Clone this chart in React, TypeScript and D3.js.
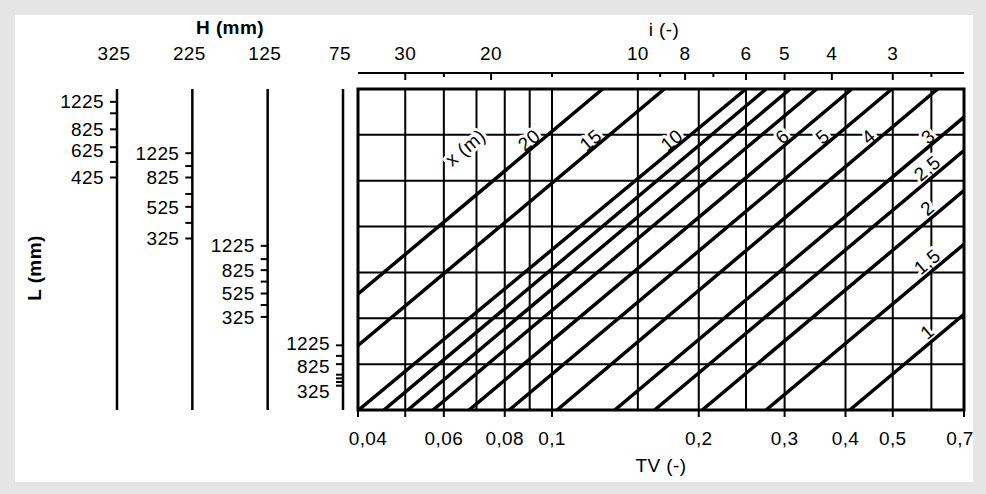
import React from "react";
import * as d3 from "d3";

// ---- data ----
const tvTickValues = [0.04, 0.05, 0.06, 0.08, 0.1, 0.2, 0.3, 0.4, 0.5, 0.7];
const tvTickLabels = ["0,04", "", "0,06", "0,08", "0,1", "0,2", "0,3", "0,4", "0,5", "0,7"];
const tvGridValues = [0.05, 0.06, 0.07, 0.08, 0.09, 0.1, 0.15, 0.2, 0.25, 0.3, 0.4, 0.5, 0.6];
const rowGridValues = [1, 2, 3, 4, 5, 6];

const iMajorTicks = [30, 20, 10, 8, 6, 5, 4, 3];
const iMinorTicks = [25, 15, 9, 7, 2.5];

const hValues = [325, 225, 125, 75];
const lTickValues = [1225, 1025, 825, 625, 525, 425, 325];
// position of each L tick on the chart's row scale (0 = bottom row, 7 = top)
const lPosH325 = [6.72, 6.47, 6.12, 5.73, 5.41, 5.07, NaN];
const lPosH225 = [5.6, 5.32, 5.07, 4.71, 4.43, 4.08, 3.74];
const lPosH125 = [3.58, 3.29, 3.05, 2.8, 2.54, 2.29, 2.03];
const lPosH75 = [1.41, 1.18, 1.0, 0.77, 0.69, 0.61, 0.53];
const lLabelsH325 = ["1225", "", "825", "625", "", "425", ""];
const lLabelsH225 = ["1225", "", "825", "", "525", "", "325"];
const lLabelsH125 = ["1225", "", "825", "", "525", "", "325"];
const lLabelsH75 = ["1225", "", "825", "", "", "", "325"];

// distance lines x (m): TV at bottom row and at top row
const xValues = [20, 15, 10, 9, 8, 7, 6, 5, 4, 3, 2.5, 2, 1.5, 1];
const xLineLabels = ["20", "15", "10", "", "", "", "6", "5", "4", "3", "2,5", "2", "1,5", "1"];
const tvAtBottom = [0.0208, 0.0278, 0.0401, 0.0452, 0.0506, 0.057, 0.0676, 0.0817, 0.1024, 0.1345, 0.1623, 0.2033, 0.2748, 0.408];
const tvAtTop = [0.127, 0.17, 0.25, 0.275, 0.308, 0.349, 0.412, 0.498, 0.618, 0.82, 0.99, 1.24, 1.68, 2.49];

const FONT = "'Liberation Sans', Arial, Helvetica, sans-serif";

export default function App() {
  const W = 986;
  const H = 494;
  const m = { left: 358, right: 964, top: 89, bottom: 410 };
  const x = d3.scaleLog().domain([0.04, 0.7]).range([m.left, m.right]);
  const y = d3.scaleLinear().domain([0, 7]).range([m.bottom, m.top]);
  const iScale = d3.scaleLog().domain([1.5 / 0.04, 1.5 / 0.7]).range([m.left, m.right]);
  const hx = d3.scalePoint<number>().domain(hValues).range([117, 343]);
  const lineGen = d3.line<[number, number]>().x((d) => d[0]).y((d) => d[1]);

  const lPos = [lPosH325, lPosH225, lPosH125, lPosH75];
  const lLab = [lLabelsH325, lLabelsH225, lLabelsH125, lLabelsH75];

  const axisY = 73;
  const fs = 19;
  const ls = 0.4;

  const labelItems = xValues
    .map((xv, k) => {
      const b = tvAtBottom[k];
      const t = tvAtTop[k];
      const x0 = x(b), y0 = y(0), x1 = x(t), y1 = y(7);
      const a = Math.atan2(y0 - y1, x1 - x0);
      const u = [Math.cos(a), -Math.sin(a)];
      const n = [-Math.sin(a), -Math.cos(a)];
      const label = xLineLabels[k];
      if (!label) return null;
      if (k <= 9) {
        const tv = b * Math.pow(t / b, 6 / 7);
        const px = x(tv), py = y(6);
        const ax = px + u[0] * -7 + n[0] * 8;
        const ay = py + u[1] * -7 + n[1] * 8;
        return { label, ax, ay, anchor: "end", deg: (-a * 180) / Math.PI };
      } else {
        const frac = Math.log(0.6 / b) / Math.log(t / b);
        const px = x(0.6), py = y(7 * frac);
        const ax = px + u[0] * 3 + n[0] * 10;
        const ay = py + u[1] * 3 + n[1] * 10;
        return { label, ax, ay, anchor: "middle", deg: (-a * 180) / Math.PI };
      }
    })
    .filter(Boolean) as { label: string; ax: number; ay: number; anchor: string; deg: number }[];

  const refAngle = (() => {
    const x0 = x(tvAtBottom[2]), x1 = x(tvAtTop[2]);
    return (-Math.atan2(y(0) - y(7), x1 - x0) * 180) / Math.PI;
  })();
  const xmX = x(0.0664);
  const xmY = y(5.72);

  const renderLabels = (halo: boolean) => (
    <g
      fontSize={fs}
      letterSpacing={ls}
      fill={halo ? "#fff" : "#000"}
      stroke={halo ? "#fff" : "none"}
      strokeWidth={halo ? 6 : 0}
      strokeLinejoin="round"
    >
      {labelItems.map((l, k) => (
        <text
          key={(halo ? "h" : "t") + k}
          x={l.ax}
          y={l.ay}
          textAnchor={l.anchor}
          dominantBaseline="central"
          transform={`rotate(${l.deg},${l.ax},${l.ay})`}
        >
          {l.label}
        </text>
      ))}
      <text x={xmX} y={xmY} textAnchor="middle" dominantBaseline="central" transform={`rotate(${refAngle},${xmX},${xmY})`}>
        x (m)
      </text>
    </g>
  );

  // small label nudges so neighbouring labels do not collide
  const labelShift = (j: number, k: number) => {
    if (j === 0 && k === 3) return 3;
    if (j === 3 && k === 0) return -2;
    if (j === 3 && k === 2) return 2;
    if (j === 3 && k === 6) return 6;
    return 0;
  };

  return (
    <svg
      width={W}
      height={H}
      style={{ position: "absolute", left: 0, top: 0, display: "block" }}
      fontFamily={FONT}
    >
      <defs>
        <clipPath id="plotClip">
          <rect x={m.left} y={m.top} width={m.right - m.left} height={m.bottom - m.top} />
        </clipPath>
      </defs>
      <rect x={0} y={0} width={W} height={H} fill="#e5e5e5" />
      <rect x={15} y={15} width={958} height={467} fill="#ffffff" />

      {/* grid */}
      {tvGridValues.map((v) => (
        <line key={"vg" + v} x1={x(v)} x2={x(v)} y1={m.top} y2={m.bottom} stroke="#000" strokeWidth={2} />
      ))}
      {rowGridValues.map((v) => (
        <line key={"hg" + v} x1={m.left} x2={m.right} y1={y(v)} y2={y(v)} stroke="#000" strokeWidth={2} />
      ))}

      {renderLabels(true)}

      {/* distance lines */}
      <g clipPath="url(#plotClip)">
        {xValues.map((xv, k) => (
          <path
            key={"xl" + xv}
            d={lineGen([
              [x(tvAtBottom[k]), y(0)],
              [x(tvAtTop[k]), y(7)],
            ]) as string}
            stroke="#000"
            strokeWidth={3.5}
            fill="none"
          />
        ))}
      </g>

      {renderLabels(false)}

      {/* plot border */}
      <rect x={m.left} y={m.top} width={m.right - m.left} height={m.bottom - m.top} fill="none" stroke="#000" strokeWidth={3} />

      {/* bottom TV axis */}
      {tvTickValues.map((v, k) => (
        <g key={"bt" + v}>
          <line x1={x(v)} x2={x(v)} y1={m.bottom} y2={m.bottom + 7} stroke="#000" strokeWidth={2} />
          {tvTickLabels[k] && (
            <text
              x={x(v) + (k === 0 ? 10 : k === tvTickValues.length - 1 ? -4 : 0)}
              y={438}
              dy="0.35em"
              textAnchor="middle"
              fontSize={fs}
              letterSpacing={ls}
            >
              {tvTickLabels[k]}
            </text>
          )}
        </g>
      ))}
      <text x={(m.left + m.right) / 2} y={465} dy="0.35em" textAnchor="middle" fontSize={fs} letterSpacing={ls}>
        TV (-)
      </text>

      {/* top i axis */}
      <line x1={m.left} x2={m.right} y1={axisY} y2={axisY} stroke="#000" strokeWidth={2} />
      {iMajorTicks.map((v) => (
        <g key={"it" + v}>
          <line x1={iScale(v)} x2={iScale(v)} y1={axisY} y2={axisY + 7} stroke="#000" strokeWidth={2} />
          <text x={iScale(v)} y={53} dy="0.35em" textAnchor="middle" fontSize={fs} letterSpacing={ls}>
            {v}
          </text>
        </g>
      ))}
      {iMinorTicks.map((v) => (
        <line key={"im" + v} x1={iScale(v)} x2={iScale(v)} y1={axisY} y2={axisY + 4} stroke="#000" strokeWidth={2} />
      ))}
      <text x={(m.left + m.right) / 2 + 3} y={29} dy="0.35em" textAnchor="middle" fontSize={fs} letterSpacing={ls}>
        i (-)
      </text>

      {/* H scales with L ticks */}
      <text x={230} y={27} dy="0.35em" textAnchor="middle" fontSize={fs} fontWeight="bold" letterSpacing={ls}>
        H (mm)
      </text>
      {hValues.map((hv, j) => {
        const cx = hx(hv) as number;
        return (
          <g key={"hs" + hv}>
            <text x={cx - 3} y={53} dy="0.35em" textAnchor="middle" fontSize={fs} letterSpacing={ls}>
              {hv}
            </text>
            <line x1={cx} x2={cx} y1={m.top} y2={m.bottom} stroke="#000" strokeWidth={2.5} />
            {lTickValues.map((lv, k) => {
              const p = lPos[j][k];
              if (isNaN(p)) return null;
              return (
                <g key={"lt" + lv}>
                  <line x1={cx - 7} x2={cx} y1={y(p)} y2={y(p)} stroke="#000" strokeWidth={2} />
                  {lLab[j][k] && (
                    <text
                      x={cx - 13}
                      y={y(p) + labelShift(j, k)}
                      dy="0.35em"
                      textAnchor="end"
                      fontSize={fs}
                      letterSpacing={ls}
                    >
                      {lLab[j][k]}
                    </text>
                  )}
                </g>
              );
            })}
          </g>
        );
      })}
      <text
        x={34}
        y={268}
        dy="0.35em"
        textAnchor="middle"
        fontSize={fs}
        fontWeight="bold"
        letterSpacing={ls}
        transform="rotate(-90,34,268)"
      >
        L (mm)
      </text>
    </svg>
  );
}
